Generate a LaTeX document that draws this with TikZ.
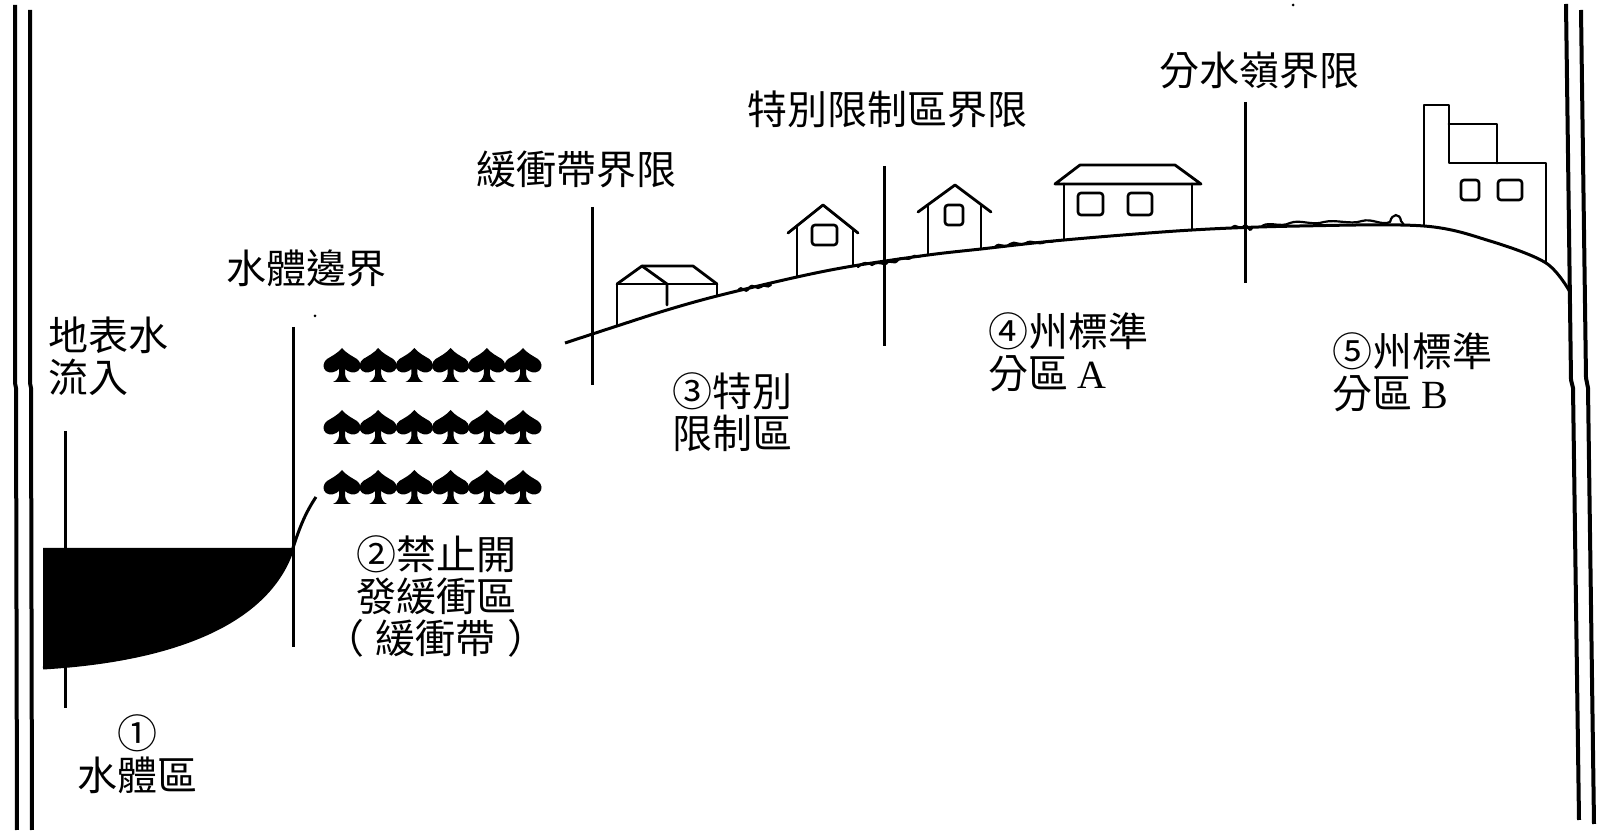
\documentclass[tikz,border=0pt]{standalone}
\usepackage{fontspec}
\setmainfont{Noto Sans CJK TC}
\newfontfamily\latinserif{Liberation Serif}
\begin{document}
\begin{tikzpicture}[x=0.5pt,y=-0.5pt,
  border/.style={line width=2pt},
  bound/.style={line width=1.5pt},
  outline/.style={line width=1.4pt, line join=round, line cap=round},
  win/.style={line width=1.3pt, rounded corners=1.5pt},
  grass/.style={line width=1.1pt, line cap=round},
  lbl/.style={inner sep=0pt, font=\fontsize{20pt}{21pt}\selectfont},
  spade/.pic={
    \fill (0,0) .. controls (4,5) and (10,8) .. (15,11)
      .. controls (19,14) and (20,20) .. (16,23)
      .. controls (12,26) and (6,24) .. (3,21)
      -- (3,26) .. controls (3.5,30) and (6,33) .. (9,34)
      -- (-9,34) .. controls (-6,33) and (-3.5,30) .. (-3,26)
      -- (-3,21) .. controls (-6,24) and (-12,26) .. (-16,23)
      .. controls (-20,20) and (-19,14) .. (-15,11)
      .. controls (-10,8) and (-4,5) .. (0,0) -- cycle;
  }]
\useasboundingbox (0,0) rectangle (1597,833);

% outer frame lines, left and right
\draw[border] (15,5) -- (15,383) -- (16,388) -- (17,830);
\draw[border] (30,10) -- (30,383) -- (31,388) -- (32,830);
\draw[border] (1566,4) -- (1571,380) -- (1573,388) -- (1579,820);
\draw[border] (1581,10) -- (1586,378) -- (1588,388) -- (1594,824);

% zone boundary markers
\draw[bound] (65,431) -- (65,708);
\draw[bound] (293,327) -- (293,647);
\draw[bound] (592,207) -- (592,385);
\draw[bound] (884,166) -- (884,346);
\draw[bound] (1245,102) -- (1245,283);

% water body and its bank
\fill (43,548) -- (293,548) .. controls (270,620) and (180,660) .. (43,668) -- cycle;
\draw[bound] (43,668) .. controls (180,660) and (270,620) .. (293,548)
  .. controls (300,526) and (306,512) .. (316,497);

% buffer strip trees
\foreach \row in {348,410,470}
  \foreach \i in {0,...,5}
    \pic at ({342+36.2*\i},\row) {spade};

% ground profile of the slope
\draw[line width=1.5pt] plot[smooth, tension=0.55] coordinates {
  (565,343) (617,326) (667,310) (717,296) (797,277) (853,266) (928,255)
  (981,249) (1064,240) (1192,230) (1300,226) (1424,226) (1490,241)
  (1546,263) (1570,292)};

% grass tufts along the ground
\draw[grass] (738,291) .. controls (742,283) and (745,296) .. (749,288)
  .. controls (753,282) and (757,291) .. (761,287) .. controls (764,283) and (767,289) .. (771,285);
\draw[grass] (858,267) .. controls (862,262) and (868,262) .. (872,265)
  .. controls (876,262) and (880,263) .. (884,264);
\draw[grass] (886,264) .. controls (890,258) and (894,266) .. (898,260)
  .. controls (903,255) and (907,262) .. (912,257) .. controls (915,254) and (918,258) .. (921,256);
\draw[grass] (995,247) .. controls (1000,241) and (1004,250) .. (1010,244)
  .. controls (1015,240) and (1020,247) .. (1026,243) .. controls (1032,239) and (1038,246) .. (1045,242)
  .. controls (1048,240) and (1051,243) .. (1054,241);
\draw[grass] (1232,228) .. controls (1236,222) and (1240,232) .. (1244,226)
  .. controls (1247,222) and (1249,234) .. (1252,228);
\draw[grass] (1262,226) .. controls (1270,221) and (1280,228) .. (1290,223)
  .. controls (1300,219) and (1312,226) .. (1324,222) .. controls (1336,219) and (1350,225) .. (1362,221)
  .. controls (1372,218) and (1382,226) .. (1390,222);
\draw[grass] (1390,222) .. controls (1392,213) and (1400,213) .. (1401,221) -- (1404,225);

% houses along the slope
\draw[outline] (617,326) -- (617,284) -- (717,284) -- (717,296);
\draw[outline] (617,284) -- (642,266) -- (693,266) -- (717,284);
\draw[outline] (642,266) -- (667,284) -- (667,305);

\draw[outline] (788,233) -- (823,205) -- (858,233);
\draw[outline] (797,226) -- (797,277);
\draw[outline] (853,229) -- (853,266);
\draw[win] (812,225) rectangle (837,245);

\draw[outline] (918,212) -- (955,185) -- (991,212);
\draw[outline] (928,205) -- (928,255);
\draw[outline] (981,205) -- (981,249);
\draw[win] (945,205) rectangle (963,225);

\draw[outline] (1055,184) -- (1201,184) -- (1175,165) -- (1080,165) -- cycle;
\draw[outline] (1064,184) -- (1064,240);
\draw[outline] (1192,184) -- (1192,230);
\draw[win] (1078,193) rectangle (1103,215);
\draw[win] (1128,193) rectangle (1152,215);

% factory near the ridge
\draw[outline] (1424,226) -- (1424,105) -- (1449,105) -- (1449,163) -- (1546,163) -- (1546,263);
\draw[outline] (1449,124) -- (1497,124) -- (1497,163);
\draw[win] (1461,180) rectangle (1479,200);
\draw[win] (1498,180) rectangle (1522,200);

% specks
\fill (315,316) circle (1.5);
\fill (1293,5) circle (1.5);

% labels
\node[lbl, anchor=west, align=left] (inflow) at (48,356) {地表水\\流入};
\node[lbl] (waterline) at (306,268) {水體邊界};
\node[lbl] (bufferline) at (576,169) {緩衝帶界限};
\node[lbl] (specialline) at (887,109) {特別限制區界限};
\node[lbl] (divide) at (1259,70) {分水嶺界限};
\node[lbl, align=center] (zone1) at (137,754) {①\\水體區};
\node[lbl, align=center] (zone2) at (436,597) {②禁止開\\發緩衝區\\（\hspace{6pt}緩衝帶\hspace{6pt}）};
\node[lbl, anchor=west, align=left] (zone3) at (672,412) {③特別\\限制區};
\node[lbl, anchor=west, align=left] (zone4) at (988,352) {④州標準\\分區 {\latinserif A}};
\node[lbl, anchor=west, align=left] (zone5) at (1332,372) {⑤州標準\\分區 {\latinserif B}};
\end{tikzpicture}
\end{document}
